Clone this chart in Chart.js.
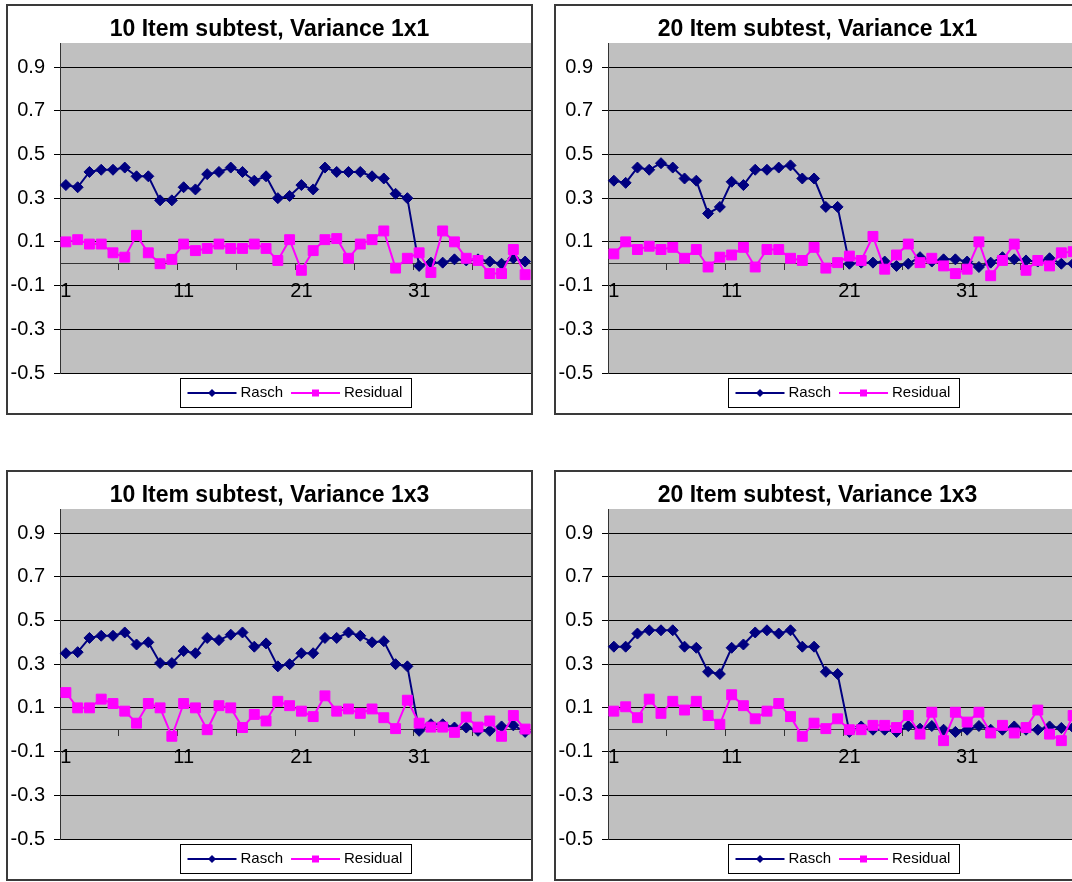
<!DOCTYPE html>
<html>
<head>
<meta charset="utf-8">
<title>Rasch vs Residual</title>
<script src="https://cdn.jsdelivr.net/npm/chart.js@4.4.1/dist/chart.umd.min.js"></script>
<style>
    html, body { margin: 0; padding: 0; background: #fff; overflow: hidden; width: 1072px; height: 882px; }
    .chart-box { position: absolute; width: 527px; height: 411px; border: 2px solid #3a3a3a; box-sizing: border-box; background: #fff; overflow: hidden; }
    .chart-box canvas { display: block; }
</style>
</head>
<body>
<div class="chart-box" style="left:6px; top:4px;"><canvas id="chart-0"></canvas></div>
<div class="chart-box" style="left:554px; top:4px;"><canvas id="chart-1"></canvas></div>
<div class="chart-box" style="left:6px; top:470px;"><canvas id="chart-2"></canvas></div>
<div class="chart-box" style="left:554px; top:470px;"><canvas id="chart-3"></canvas></div>

<script>
// Items 1..40 on the x axis
const items = ['1','2','3','4','5','6','7','8','9','10','11','12','13','14','15','16','17','18','19','20',
               '21','22','23','24','25','26','27','28','29','30','31','32','33','34','35','36','37','38','39','40'];
const yTicks = [-0.5, -0.3, -0.1, 0.1, 0.3, 0.5, 0.7, 0.9];
const yTickLabels = ['-0.5', '-0.3', '-0.1', '0.1', '0.3', '0.5', '0.7', '0.9'];
const seriesNames = ['Rasch', 'Residual'];
const titles = ['10 Item subtest, Variance 1x1', '20 Item subtest, Variance 1x1',
                '10 Item subtest, Variance 1x3', '20 Item subtest, Variance 1x3'];

const rasch10x1 = [0.36,0.35,0.42,0.43,0.43,0.44,0.40,0.40,0.29,0.29,0.35,0.34,0.41,0.42,0.44,0.42,0.38,0.40,0.30,0.31,
                   0.36,0.34,0.44,0.42,0.42,0.42,0.40,0.39,0.32,0.30,-0.01,0.005,0.005,0.02,0.015,0.02,0.01,0.0,0.025,0.01];
const resid10x1 = [0.10,0.11,0.09,0.09,0.05,0.03,0.13,0.05,0.0,0.02,0.09,0.06,0.07,0.09,0.07,0.07,0.09,0.07,0.015,0.11,
                   -0.03,0.06,0.11,0.115,0.025,0.09,0.11,0.15,-0.02,0.025,0.05,-0.04,0.15,0.10,0.025,0.015,-0.045,-0.045,0.065,-0.05];

const rasch20x1 = [0.38,0.37,0.44,0.43,0.46,0.44,0.39,0.38,0.23,0.26,0.375,0.36,0.43,0.43,0.44,0.45,0.39,0.39,0.26,0.26,
                   0.0,0.005,0.005,0.01,-0.01,0.0,0.03,0.01,0.02,0.02,0.01,-0.015,0.005,0.03,0.02,0.015,0.01,0.025,0.0,0.0];
const resid20x1 = [0.045,0.10,0.065,0.08,0.065,0.075,0.025,0.065,-0.015,0.03,0.04,0.075,-0.015,0.065,0.065,0.025,0.015,0.075,-0.02,0.005,
                   0.035,0.015,0.125,-0.025,0.04,0.09,0.005,0.025,-0.01,-0.045,-0.025,0.10,-0.055,0.015,0.09,-0.03,0.015,-0.01,0.05,0.055];

const rasch10x3 = [0.35,0.355,0.42,0.43,0.43,0.445,0.39,0.40,0.305,0.305,0.36,0.35,0.42,0.41,0.435,0.445,0.38,0.395,0.29,0.30,
                   0.35,0.35,0.42,0.42,0.445,0.43,0.40,0.405,0.30,0.29,-0.005,0.025,0.025,0.01,0.01,-0.005,-0.005,0.015,0.02,-0.01];
const resid10x3 = [0.17,0.10,0.10,0.14,0.12,0.085,0.03,0.12,0.10,-0.03,0.12,0.10,0.0,0.11,0.10,0.01,0.07,0.04,0.13,0.11,
                   0.085,0.06,0.155,0.085,0.095,0.075,0.095,0.055,0.005,0.135,0.03,0.012,0.012,-0.012,0.058,0.012,0.04,-0.03,0.065,0.003];

const rasch20x3 = [0.38,0.38,0.44,0.455,0.455,0.455,0.38,0.375,0.265,0.255,0.375,0.39,0.445,0.455,0.44,0.455,0.38,0.38,0.265,0.255,
                   -0.01,0.015,0.0,0.0,-0.01,0.017,0.005,0.017,0.0,-0.01,0.0,0.017,0.0,0.0,0.015,0.0,0.0,0.015,0.008,0.01];
const resid20x3 = [0.085,0.105,0.055,0.14,0.075,0.13,0.09,0.13,0.065,0.025,0.16,0.11,0.05,0.085,0.12,0.06,-0.03,0.03,0.005,0.05,
                   0.0,0.0,0.02,0.02,0.01,0.065,-0.02,0.08,-0.05,0.08,0.035,0.08,-0.015,0.02,-0.015,0.01,0.09,-0.02,-0.05,0.065];

const panels = [
    { title: titles[0], rasch: rasch10x1, resid: resid10x1 },
    { title: titles[1], rasch: rasch20x1, resid: resid20x1 },
    { title: titles[2], rasch: rasch10x3, resid: resid10x3 },
    { title: titles[3], rasch: rasch20x3, resid: resid20x3 }
];

const FONT = "'Liberation Sans', Arial, sans-serif";
Chart.defaults.font.family = FONT;
Chart.defaults.color = '#000';

// grey plot area like the old Excel default
const plotBackground = {
    id: 'plotBackground',
    beforeDraw(chart) {
        const { ctx, chartArea } = chart;
        ctx.save();
        ctx.fillStyle = '#c0c0c0';
        ctx.fillRect(chartArea.left, chartArea.top, chartArea.right - chartArea.left, chartArea.bottom - chartArea.top);
        ctx.restore();
    }
};

function drawMarker(ctx, style, x, y, r, color) {
    ctx.fillStyle = color;
    ctx.beginPath();
    if (style === 'rectRot') {
        ctx.moveTo(x - r, y);
        ctx.lineTo(x, y - r);
        ctx.lineTo(x + r, y);
        ctx.lineTo(x, y + r);
    } else {
        ctx.rect(x - r, y - r, 2 * r, 2 * r);
    }
    ctx.closePath();
    ctx.fill();
}

// boxed legend with line + marker samples, centred under the plot
const excelLegend = {
    id: 'excelLegend',
    afterDraw(chart) {
        const { ctx, chartArea } = chart;
        const sets = chart.data.datasets;
        const lineLen = 49, gapText = 4, gapItem = 8, padL = 7, padR = 9, h = 29;
        ctx.save();
        ctx.font = '15px ' + FONT;
        let w = padL + padR;
        sets.forEach((ds, i) => {
            w += lineLen + gapText + ctx.measureText(ds.label).width;
            if (i < sets.length - 1) w += gapItem;
        });
        w = Math.round(w);
        const cx = (chartArea.left + chartArea.right) / 2;
        const cy = chartArea.bottom + 19.5;
        const bx = Math.round(cx - w / 2) + 0.5;
        const by = Math.round(cy - h / 2) + 0.5;
        ctx.fillStyle = '#fff';
        ctx.fillRect(bx, by, w, h);
        ctx.strokeStyle = '#000';
        ctx.lineWidth = 1;
        ctx.strokeRect(bx, by, w, h);

        let x = bx + padL;
        const my = Math.round(cy);
        sets.forEach((ds) => {
            ctx.strokeStyle = ds.borderColor;
            ctx.lineWidth = 2;
            ctx.beginPath();
            ctx.moveTo(x, my);
            ctx.lineTo(x + lineLen, my);
            ctx.stroke();
            drawMarker(ctx, ds.pointStyle, x + lineLen / 2, my, ds.pointStyle === 'rectRot' ? 4 : 3.5, ds.pointBackgroundColor);
            x += lineLen + gapText;
            ctx.fillStyle = '#000';
            ctx.textBaseline = 'middle';
            ctx.textAlign = 'left';
            ctx.fillText(ds.label, x, my);
            x += ctx.measureText(ds.label).width + gapItem;
        });
        ctx.restore();
    }
};

function buildChart(canvasId, panel) {
    const ctx = document.getElementById(canvasId).getContext('2d');
    return new Chart(ctx, {
        type: 'line',
        data: {
            labels: items,
            datasets: [
                {
                    label: seriesNames[0],
                    data: panel.rasch,
                    borderColor: '#000080',
                    backgroundColor: '#000080',
                    pointBackgroundColor: '#000080',
                    pointBorderColor: '#000080',
                    pointStyle: 'rectRot',
                    pointRadius: 5.5,
                    pointBorderWidth: 1,
                    borderWidth: 2,
                    tension: 0,
                    order: 2
                },
                {
                    label: seriesNames[1],
                    data: panel.resid,
                    borderColor: '#ff00ff',
                    backgroundColor: '#ff00ff',
                    pointBackgroundColor: '#ff00ff',
                    pointBorderColor: '#ff00ff',
                    pointStyle: 'rect',
                    pointRadius: 7,
                    pointBorderWidth: 1,
                    borderWidth: 2,
                    tension: 0,
                    order: 1
                }
            ]
        },
        options: {
            responsive: true,
            maintainAspectRatio: false,
            animation: false,
            layout: { autoPadding: false, padding: { top: 0, left: 0, right: 0, bottom: 40 } },
            plugins: {
                legend: { display: false },
                tooltip: { enabled: false },
                title: {
                    display: true,
                    text: panel.title,
                    color: '#000',
                    font: { size: 23, weight: 'bold' },
                    padding: { top: 9.4, bottom: 0 }
                }
            },
            scales: {
                x: {
                    type: 'category',
                    position: { y: 0 },
                    offset: true,
                    afterFit: (scale) => { scale.paddingLeft = 0; scale.paddingRight = 0; },
                    grid: {
                        offset: true,
                        drawOnChartArea: false,
                        tickLength: 6,
                        color: (c) => (c.index > 0 && c.index % 5 === 0) ? '#333' : 'rgba(0,0,0,0)'
                    },
                    border: { color: '#333', width: 1 },
                    ticks: {
                        autoSkip: false,
                        maxRotation: 0,
                        padding: 10,
                        color: '#000',
                        font: { size: 20 },
                        callback: (v, i) => (i % 10 === 0 ? items[i] : '')
                    }
                },
                y: {
                    min: -0.5,
                    max: 1.01,
                    afterBuildTicks: (scale) => { scale.ticks = yTicks.map(v => ({ value: v })); },
                    afterFit: (scale) => { scale.width = 52; },
                    grid: { color: '#000', lineWidth: 1, tickLength: 6 },
                    border: { color: '#333', width: 1 },
                    ticks: {
                        padding: 9,
                        color: '#000',
                        font: { size: 20 },
                        callback: (v, i) => yTickLabels[i]
                    }
                }
            }
        },
        plugins: [plotBackground, excelLegend]
    });
}

panels.forEach((p, i) => buildChart(`chart-${i}`, p));
</script>
</body>
</html>
